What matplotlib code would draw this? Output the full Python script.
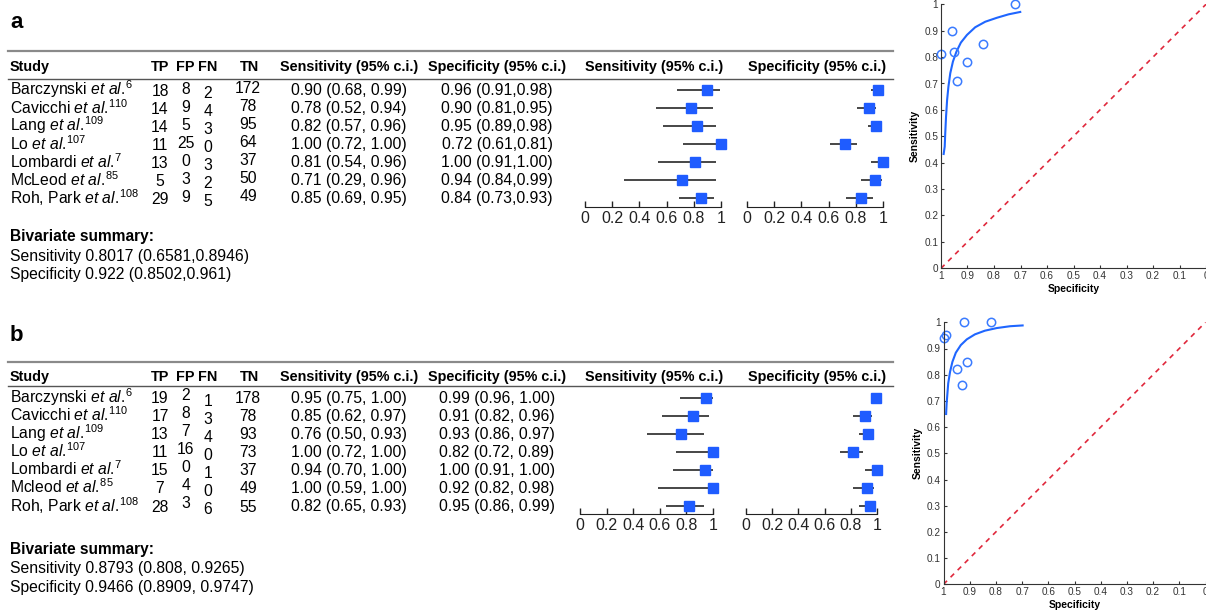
import numpy as np
import matplotlib.pyplot as plt
from matplotlib.lines import Line2D

plt.rcParams['font.family'] = ['Liberation Sans', 'DejaVu Sans']
plt.rcParams['mathtext.fontset'] = 'custom'
plt.rcParams['mathtext.rm'] = 'Liberation Sans'
plt.rcParams['mathtext.it'] = 'Liberation Sans:italic'
plt.rcParams['mathtext.bf'] = 'Liberation Sans:bold'

# ---------------- data ----------------
refs = ['6', '110', '109', '107', '7', '85', '108']
names_a = ['Barczynski', 'Cavicchi', 'Lang', 'Lo', 'Lombardi', 'McLeod', 'Roh, Park']
names_b = ['Barczynski', 'Cavicchi', 'Lang', 'Lo', 'Lombardi', 'Mcleod', 'Roh, Park']

tp_a = [18, 14, 14, 11, 13, 5, 29]
fp_a = [8, 9, 5, 25, 0, 3, 9]
fn_a = [2, 4, 3, 0, 3, 2, 5]
tn_a = [172, 78, 95, 64, 37, 50, 49]
sens_a = [0.90, 0.78, 0.82, 1.00, 0.81, 0.71, 0.85]
sens_lo_a = [0.68, 0.52, 0.57, 0.72, 0.54, 0.29, 0.69]
sens_hi_a = [0.99, 0.94, 0.96, 1.00, 0.96, 0.96, 0.95]
spec_a = [0.96, 0.90, 0.95, 0.72, 1.00, 0.94, 0.84]
spec_lo_a = [0.91, 0.81, 0.89, 0.61, 0.91, 0.84, 0.73]
spec_hi_a = [0.98, 0.95, 0.98, 0.81, 1.00, 0.99, 0.93]
summary_a = ['Sensitivity 0.8017 (0.6581,0.8946)', 'Specificity 0.922 (0.8502,0.961)']

tp_b = [19, 17, 13, 11, 15, 7, 28]
fp_b = [2, 8, 7, 16, 0, 4, 3]
fn_b = [1, 3, 4, 0, 1, 0, 6]
tn_b = [178, 78, 93, 73, 37, 49, 55]
sens_b = [0.95, 0.85, 0.76, 1.00, 0.94, 1.00, 0.82]
sens_lo_b = [0.75, 0.62, 0.50, 0.72, 0.70, 0.59, 0.65]
sens_hi_b = [1.00, 0.97, 0.93, 1.00, 1.00, 1.00, 0.93]
spec_b = [0.99, 0.91, 0.93, 0.82, 1.00, 0.92, 0.95]
spec_lo_b = [0.96, 0.82, 0.86, 0.72, 0.91, 0.82, 0.86]
spec_hi_b = [1.00, 0.96, 0.97, 0.89, 1.00, 0.98, 0.99]
summary_b = ['Sensitivity 0.8793 (0.808, 0.9265)', 'Specificity 0.9466 (0.8909, 0.9747)']

# SROC curves
sroc_spec_a = [0.990, 0.986, 0.984, 0.981, 0.977, 0.972, 0.965, 0.955, 0.942,
               0.925, 0.902, 0.871, 0.833, 0.789, 0.745, 0.701]
sroc_sens_a = [0.433, 0.461, 0.511, 0.574, 0.637, 0.688, 0.739, 0.783, 0.820,
               0.855, 0.884, 0.913, 0.934, 0.949, 0.962, 0.971]
sroc_spec_b = [0.990, 0.988, 0.985, 0.982, 0.975, 0.966, 0.953, 0.934, 0.911,
               0.880, 0.842, 0.797, 0.746, 0.698]
sroc_sens_b = [0.650, 0.691, 0.729, 0.767, 0.811, 0.849, 0.884, 0.913, 0.935,
               0.954, 0.968, 0.978, 0.985, 0.988]

forest_ticks = [0, 0.2, 0.4, 0.6, 0.8, 1]
forest_labels = ['0', '0.2', '0.4', '0.6', '0.8', '1']
sroc_ticks = [1, 0.9, 0.8, 0.7, 0.6, 0.5, 0.4, 0.3, 0.2, 0.1, 0]
sroc_labels = ['1', '0.9', '0.8', '0.7', '0.6', '0.5', '0.4', '0.3', '0.2', '0.1', '0']
yticks = [0, 0.1, 0.2, 0.3, 0.4, 0.5, 0.6, 0.7, 0.8, 0.9, 1]
ylabels = ['0', '0.1', '0.2', '0.3', '0.4', '0.5', '0.6', '0.7', '0.8', '0.9', '1']

W, H = 1206, 614
BLUE = '#1f5cff'
fig = plt.figure(figsize=(W / 100, H / 100), dpi=100)


def tx(x, y, s, **kw):
    fig.text(x / W, 1 - y / H, s, **kw)


def hrule(x0, x1, y, **kw):
    fig.add_artist(Line2D([x0 / W, x1 / W], [1 - y / H] * 2,
                          transform=fig.transFigure, **kw))


def axes_px(left, top, right, bottom):
    return fig.add_axes([left / W, 1 - bottom / H, (right - left) / W, (bottom - top) / H])


def forest(x0, x1, row0, step, axis_y, vals, lo, hi):
    ax = axes_px(x0, row0 - 0.5 * step, x1, axis_y)
    ys = np.arange(len(vals))
    ax.hlines(ys, lo, hi, color='#383838', lw=1.3, clip_on=False)
    ax.plot(vals, ys, 's', color=BLUE, ms=7.5, clip_on=False, zorder=3)
    ax.set_xlim(0, 1)
    ax.set_ylim((axis_y - row0) / step, -0.5)
    for s in ['top', 'right', 'left']:
        ax.spines[s].set_visible(False)
    ax.spines['bottom'].set_color('#222222')
    ax.set_yticks([])
    ax.set_xticks(forest_ticks)
    ax.set_xticklabels(forest_labels)
    ax.tick_params(axis='x', direction='in', length=4, width=1, pad=3,
                   labelsize=11.5, colors='#222222')
    ax.patch.set_alpha(0)


def sroc(left, top, right, bottom, spec, sens, cs, cy):
    ax = axes_px(left, top, right, bottom)
    ax.plot([1, 0], [0, 1], color='#e0283c', lw=1.2, dashes=(3, 3))
    ax.plot(cs, cy, color='#1f66ff', lw=1.5)
    ax.plot(spec, sens, 'o', mfc='none', mec='#3a7bff', ms=6, mew=1.1, clip_on=False)
    ax.set_xlim(1, 0)
    ax.set_ylim(0, 1)
    ax.set_xticks(sroc_ticks)
    ax.set_xticklabels(sroc_labels)
    ax.set_yticks(yticks)
    ax.set_yticklabels(ylabels)
    ax.spines['top'].set_visible(False)
    ax.spines['right'].set_visible(False)
    for s in ['left', 'bottom']:
        ax.spines[s].set_color('#333333')
    ax.tick_params(direction='in', length=2, labelsize=7.2, pad=2, colors='#333333')
    ax.set_xlabel('Specificity', fontsize=7.5, fontweight='bold', labelpad=2)
    ax.set_ylabel('Sensitivity', fontsize=7.5, fontweight='bold', labelpad=3)


def panel(L, label, names, tp, fp, fn, tn, se, se_lo, se_hi, sp, sp_lo, sp_hi,
          summary, se_sep, sp_sep):
    tx(10, L['label'], label, fontsize=16, fontweight='bold', va='baseline')
    hrule(8, 893, L['rule0'], color='#8a8a8a', lw=1.6)
    hrule(8, 893, L['rule1'], color='#555555', lw=1.0)
    hb = L['head']
    hk = dict(fontsize=10.4, fontweight='bold', va='baseline')
    tx(10, hb, 'Study', ha='left', **hk)
    for x, s in zip([160, 185, 208, 249], ['TP', 'FP', 'FN', 'TN']):
        tx(x, hb, s, ha='center', **hk)
    tx(349, hb, 'Sensitivity (95% c.i.)', ha='center', **hk)
    tx(497, hb, 'Specificity (95% c.i.)', ha='center', **hk)
    tx(654, hb, 'Sensitivity (95% c.i.)', ha='center', **hk)
    tx(817, hb, 'Specificity (95% c.i.)', ha='center', **hk)

    bk = dict(fontsize=11.3, va='baseline')
    for i in range(len(names)):
        # text rows sit on the same lines as the forest squares
        y = L['frow0'] + i * L['fstep'] + 5.5
        tx(10, y, names[i] + r' $\mathit{et\ al.\!}^{\mathrm{' + refs[i] + '}}$', ha='left', **bk)
        for x, col, dy in zip([160, 186, 208, 248], [tp, fp, fn, tn], L['dy']):
            tx(x, y + dy, str(col[i]), ha='center', **bk)
        tx(349, y, '%.2f (%.2f%s%.2f)' % (se[i], se_lo[i], se_sep, se_hi[i]), ha='center', **bk)
        tx(497, y, '%.2f (%.2f%s%.2f)' % (sp[i], sp_lo[i], sp_sep, sp_hi[i]), ha='center', **bk)

    tx(10, L['summ'][0], 'Bivariate summary:', fontsize=11.2, fontweight='bold', va='baseline')
    tx(10, L['summ'][1], summary[0], **bk)
    tx(10, L['summ'][2], summary[1], **bk)

    fx = L['fx']
    forest(fx[0], fx[1], L['frow0'], L['fstep'], L['faxis'], se, se_lo, se_hi)
    forest(fx[2], fx[3], L['frow0'], L['fstep'], L['faxis'], sp, sp_lo, sp_hi)


lay_a = dict(label=28, rule0=51, head=71, rule1=79,
             dy=[0, -1.5, 3, -2.5], summ=[241, 260.5, 278.5],
             fx=[585, 721, 747, 883], frow0=90, fstep=18, faxis=206.7)
lay_b = dict(label=341, rule0=362, head=381, rule1=386,
             dy=[0, -3, 3, 0], summ=[554, 573.5, 592],
             fx=[580, 713, 746, 877], frow0=397.7, fstep=18.05, faxis=514.3)

panel(lay_a, 'a', names_a, tp_a, fp_a, fn_a, tn_a, sens_a, sens_lo_a, sens_hi_a,
      spec_a, spec_lo_a, spec_hi_a, summary_a, ', ', ',')
panel(lay_b, 'b', names_b, tp_b, fp_b, fn_b, tn_b, sens_b, sens_lo_b, sens_hi_b,
      spec_b, spec_lo_b, spec_hi_b, summary_b, ', ', ', ')

sroc(941, 4.3, 1206, 268.3, spec_a, sens_a, sroc_spec_a, sroc_sens_a)
sroc(943.5, 322.3, 1205.5, 584.3, spec_b, sens_b, sroc_spec_b, sroc_sens_b)

fig.savefig('out.png', dpi=100)
